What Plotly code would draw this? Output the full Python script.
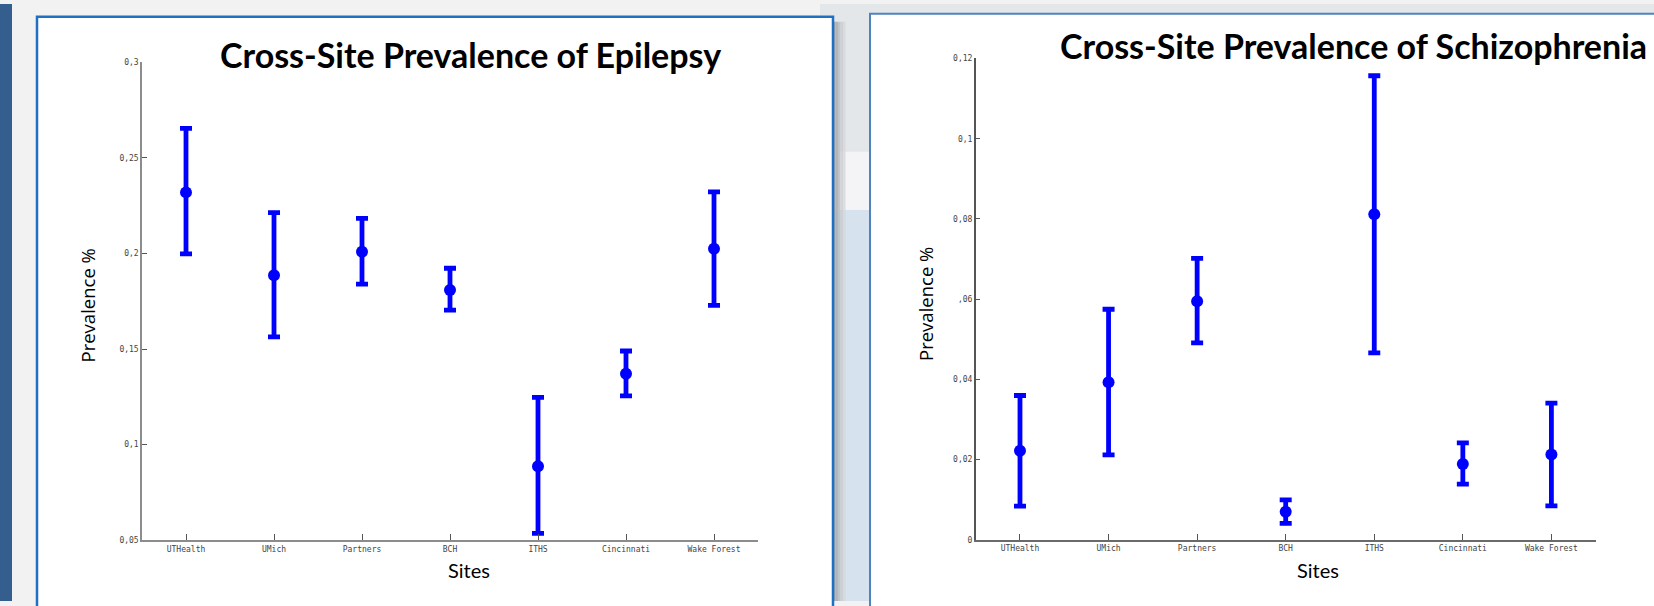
import plotly.graph_objects as go

W, H = 1654, 606

# ---------------- data ----------------
sites = ["UTHealth", "UMich", "Partners", "BCH", "ITHS", "Cincinnati", "Wake Forest"]

epi_prev = [0.232, 0.1887, 0.2009, 0.1809, 0.0887, 0.1371, 0.2025]
epi_upper = [0.2655, 0.2214, 0.2184, 0.1923, 0.1247, 0.149, 0.2323]
epi_lower = [0.1998, 0.1564, 0.184, 0.1704, 0.0536, 0.1255, 0.1729]

sch_prev = [0.0222, 0.0393, 0.0595, 0.0070, 0.0812, 0.0189, 0.0213]
sch_upper = [0.0360, 0.0575, 0.0702, 0.0100, 0.1157, 0.0242, 0.0341]
sch_lower = [0.0084, 0.0212, 0.0491, 0.0041, 0.0466, 0.0139, 0.0085]

epi_ticks = [0.05, 0.1, 0.15, 0.2, 0.25, 0.3]
epi_ticktext = ["0,05", "0,1", "0,15", "0,2", "0,25", "0,3"]
sch_ticks = [0, 0.02, 0.04, 0.06, 0.08, 0.1, 0.12]
sch_ticktext = ["0", "0,02", "0,04", ",06", "0,08", "0,1", "0,12"]

title_left = "Cross-Site Prevalence of Epilepsy"
title_right = "Cross-Site Prevalence of Schizophrenia"
ytitle = "Prevalence %"
xtitle = "Sites"

# ---------------- helpers ----------------
def px(x):
    return x / W

def py(y):
    return 1 - y / H

BLUE = "#0000ff"

fig = go.Figure()

def add_series(prev, upper, lower, xa, ya):
    plus = [u - p for u, p in zip(upper, prev)]
    minus = [p - l for p, l in zip(prev, lower)]
    fig.add_trace(go.Scatter(
        x=sites, y=prev, mode="markers",
        marker=dict(color=BLUE, size=12),
        error_y=dict(type="data", array=plus, arrayminus=minus,
                     color=BLUE, thickness=4.8, width=6, visible=True),
        xaxis=xa, yaxis=ya, showlegend=False, cliponaxis=False,
    ))

add_series(epi_prev, epi_upper, epi_lower, "x", "y")
add_series(sch_prev, sch_upper, sch_lower, "x2", "y2")

tickfont = dict(family="DejaVu Sans Mono", size=8, color="#444444")

common_x = dict(type="category", range=[-0.5, 6.5], showgrid=False, zeroline=False,
                showline=True, linewidth=1.5, ticks="inside", ticklen=6,
                tickwidth=1, tickcolor="#555555", tickfont=tickfont, fixedrange=True)
common_y = dict(showgrid=False, zeroline=False, showline=True, linewidth=1.5,
                ticks="inside", ticklen=5, tickwidth=1, tickcolor="#555555",
                tickfont=tickfont, fixedrange=True)

fig.update_layout(
    width=W, height=H,
    margin=dict(l=0, r=0, t=0, b=0),
    paper_bgcolor="#f2f2f2",
    plot_bgcolor="rgba(0,0,0,0)",
    showlegend=False,
    xaxis=dict(domain=[px(142), px(758)], anchor="y", linecolor="#8c8c8c", **common_x),
    yaxis=dict(domain=[py(544.3), py(59.3)], anchor="x", range=[0.05, 0.3],
               tickvals=epi_ticks, ticktext=epi_ticktext, linecolor="#8c8c8c", **common_y),
    xaxis2=dict(domain=[px(975.7), px(1595.7)], anchor="y2", linecolor="#6a6a6a", **common_x),
    yaxis2=dict(domain=[py(544), py(55.3)], anchor="x2", range=[0, 0.12],
                tickvals=sch_ticks, ticktext=sch_ticktext, linecolor="#555555", **common_y),
)

shapes = []
def rect(x0, y0, x1, y1, fill, line=None, lw=0, opacity=1):
    d = dict(type="rect", xref="paper", yref="paper", x0=px(x0), x1=px(x1),
             y0=py(y1), y1=py(y0), fillcolor=fill, layer="below", opacity=opacity,
             line=dict(width=lw, color=line if line else "rgba(0,0,0,0)"))
    shapes.append(d)

# slide background pieces
rect(0, 0, 12, H, "#345e8e")
rect(820, 0, W, 12, "#e4e7ea")
rect(833, 0, 870, 209, "#e4e7ea")
rect(833, 209, 870, H, "#d6e3ef")
rect(840, 150, 870, 209, "#f7f8f9", opacity=0.8)
# shadow of left panel
for i, c in enumerate(["#8e949a", "#a4a9ae", "#b8bcc0", "#c9ccd0", "#d4d7da"]):
    rect(833 + i * 2.5, 18, 835.5 + i * 2.5, H, c, opacity=0.8)
# panels
rect(37, 13, 833, H + 10, "#ffffff", line="#1f6fc2", lw=2.5)
rect(870, 10, W + 10, H + 10, "#ffffff", line="#4f82c0", lw=2)

fig.update_layout(shapes=shapes)

ann = []
ann.append(dict(text="<b>" + title_left + "</b>", x=px(470), y=py(51), xanchor="center",
                yanchor="middle", font=dict(family="Lato", size=34, color="#000000")))
ann.append(dict(text="<b>" + title_right + "</b>", x=px(1058), y=py(42.5), xanchor="left",
                yanchor="middle", font=dict(family="Lato", size=34, color="#000000")))
ann.append(dict(text=ytitle, x=px(87), y=py(306), textangle=-90, xanchor="center",
                yanchor="middle", font=dict(family="Open Sans", size=18.5, color="#000000")))
ann.append(dict(text=ytitle, x=px(925.5), y=py(305), textangle=-90, xanchor="center",
                yanchor="middle", font=dict(family="Open Sans", size=18.5, color="#000000")))
ann.append(dict(text=xtitle, x=px(469), y=py(575), xanchor="center", yanchor="middle",
                font=dict(family="Lato", size=20, color="#000000")))
ann.append(dict(text=xtitle, x=px(1317.7), y=py(575), xanchor="center", yanchor="middle",
                font=dict(family="Lato", size=20, color="#000000")))
for a in ann:
    a.update(xref="paper", yref="paper", showarrow=False)
fig.update_layout(annotations=ann)

fig.write_html(
    "out.html",
    config={"displayModeBar": False},
    post_script="document.body.style.margin='0';document.body.style.overflow='hidden';",
)
